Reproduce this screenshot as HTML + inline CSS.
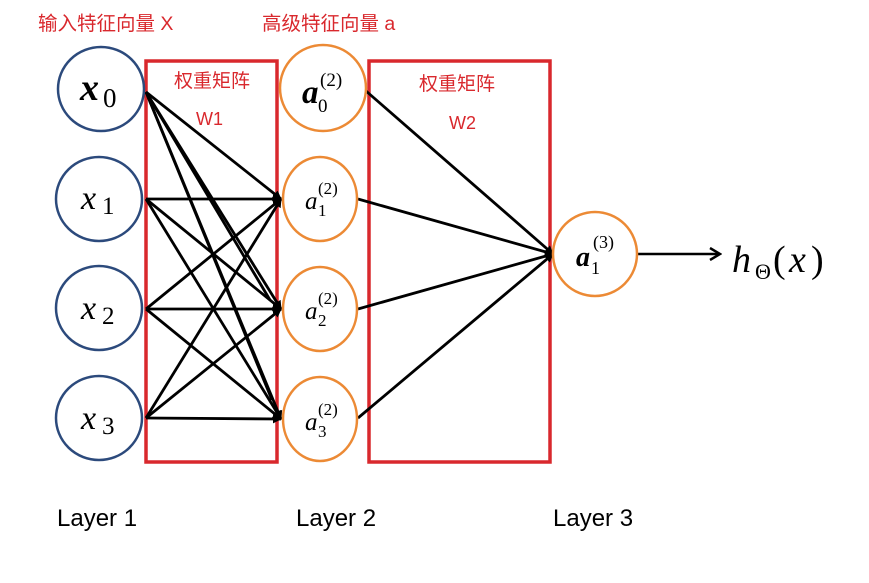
<!DOCTYPE html>
<html><head><meta charset="utf-8"><style>
html,body{margin:0;padding:0;background:#fff;}
svg{display:block}
.cn{font-family:"Liberation Sans","Noto Sans CJK SC",sans-serif;fill:#d9282d}
.m{font-family:"Liberation Serif","DejaVu Serif",serif;font-style:italic;fill:#000}
.mu{font-family:"Liberation Serif","DejaVu Serif",serif;fill:#000}
.lay{font-family:"Liberation Sans",sans-serif;font-size:24px;fill:#000}
</style></head><body>
<svg width="869" height="583" viewBox="0 0 869 583" xmlns="http://www.w3.org/2000/svg">
<defs>
<marker id="ah" markerWidth="9" markerHeight="9" refX="8" refY="4.5" orient="auto" markerUnits="userSpaceOnUse">
<path d="M0,0 L9,4.5 L0,9 z" fill="#000"/></marker>
<marker id="ao" markerWidth="14" markerHeight="14" refX="12" refY="7" orient="auto" markerUnits="userSpaceOnUse">
<path d="M2,1 L12,7 L2,13" fill="none" stroke="#000" stroke-width="2.5"/></marker>
</defs>
<text class="cn" x="38" y="30" font-size="19.5">输入特征向量 X</text>
<text class="cn" x="262" y="30" font-size="19.5">高级特征向量 a</text>
<rect x="146" y="61" width="131" height="401" fill="none" stroke="#d9282d" stroke-width="3.5"/>
<rect x="369" y="61" width="181" height="401" fill="none" stroke="#d9282d" stroke-width="3.5"/>
<text class="cn" x="174" y="87" font-size="19">权重矩阵</text>
<text class="cn" x="196" y="125" font-size="18">W1</text>
<text class="cn" x="419" y="90" font-size="19">权重矩阵</text>
<text class="cn" x="449" y="129" font-size="18">W2</text>
<g stroke="#000" stroke-width="2.8" marker-end="url(#ah)">
<line x1="146" y1="92" x2="281" y2="199"/>
<line x1="146" y1="92" x2="281" y2="309"/>
<line x1="146" y1="92" x2="281" y2="419"/>
<line x1="146" y1="199" x2="281" y2="199"/>
<line x1="146" y1="199" x2="281" y2="309"/>
<line x1="146" y1="199" x2="281" y2="419"/>
<line x1="146" y1="309" x2="281" y2="199"/>
<line x1="146" y1="309" x2="281" y2="309"/>
<line x1="146" y1="309" x2="281" y2="419"/>
<line x1="146" y1="418" x2="281" y2="199"/>
<line x1="146" y1="418" x2="281" y2="309"/>
<line x1="146" y1="418" x2="281" y2="419"/>
<line x1="366" y1="91" x2="553" y2="254"/>
<line x1="358" y1="199" x2="553" y2="254"/>
<line x1="358" y1="309" x2="553" y2="254"/>
<line x1="358" y1="418" x2="553" y2="254"/>
</g>
<g stroke="#000" stroke-width="2.8">
<line x1="146" y1="92" x2="270" y2="300"/>
<line x1="146" y1="92" x2="272" y2="400"/>
</g>
<line x1="638" y1="254" x2="720" y2="254" stroke="#000" stroke-width="2.5" marker-end="url(#ao)"/>
<g fill="#fff" stroke="#2c4a7c" stroke-width="2.5">
<ellipse cx="101" cy="89" rx="43" ry="42"/>
<ellipse cx="99" cy="199" rx="43" ry="42"/>
<ellipse cx="99" cy="308" rx="43" ry="42"/>
<ellipse cx="99" cy="418" rx="43" ry="42"/>
</g>
<g fill="#fff" stroke="#ec8a35" stroke-width="2.5">
<ellipse cx="323" cy="88" rx="43" ry="43"/>
<ellipse cx="320" cy="199" rx="37" ry="42"/>
<ellipse cx="320" cy="309" rx="37" ry="42"/>
<ellipse cx="320" cy="419" rx="37" ry="42"/>
<ellipse cx="595" cy="254" rx="42" ry="42"/>
</g>
<text class="m" x="80" y="100" font-size="38" font-weight="bold">x</text><text class="mu" x="103" y="107" font-size="27">0</text>
<text class="m" x="81" y="209" font-size="34">x</text><text class="mu" x="102" y="214" font-size="25">1</text>
<text class="m" x="81" y="319" font-size="34">x</text><text class="mu" x="102" y="324" font-size="25">2</text>
<text class="m" x="81" y="429" font-size="34">x</text><text class="mu" x="102" y="434" font-size="25">3</text>
<text class="m" x="302" y="103" font-size="33" font-weight="bold">a</text><text class="mu" x="318" y="112" font-size="19">0</text><text class="mu" x="320" y="86" font-size="19">(2)</text>
<text class="m" x="305" y="209" font-size="25">a</text><text class="mu" x="318" y="216" font-size="17">1</text><text class="mu" x="318" y="194" font-size="17">(2)</text>
<text class="m" x="305" y="319" font-size="25">a</text><text class="mu" x="318" y="326" font-size="17">2</text><text class="mu" x="318" y="304" font-size="17">(2)</text>
<text class="m" x="305" y="430" font-size="25">a</text><text class="mu" x="318" y="437" font-size="17">3</text><text class="mu" x="318" y="415" font-size="17">(2)</text>
<text class="m" x="576" y="266" font-size="28" font-weight="bold">a</text><text class="mu" x="591" y="274" font-size="18">1</text><text class="mu" x="593" y="248" font-size="18">(3)</text>
<text class="m" x="732" y="272" font-size="38">h</text><text class="mu" x="755" y="279" font-size="22">Θ</text><text class="mu" x="773" y="272" font-size="38">(</text><text class="m" x="789" y="272" font-size="38">x</text><text class="mu" x="811" y="272" font-size="38">)</text>
<text class="lay" x="57" y="526">Layer 1</text>
<text class="lay" x="296" y="526">Layer 2</text>
<text class="lay" x="553" y="526">Layer 3</text>
</svg>
</body></html>
